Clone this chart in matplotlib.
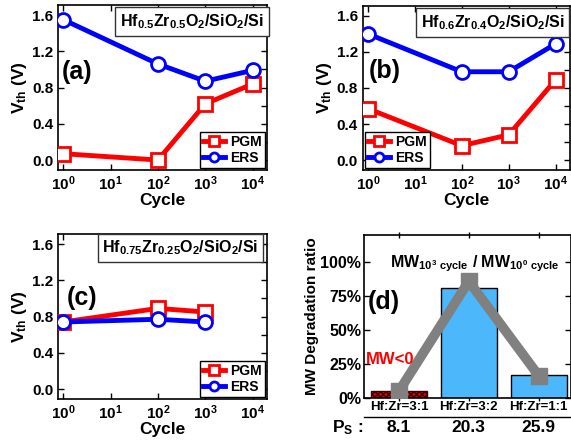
import numpy as np
import matplotlib
matplotlib.use("Agg")
import matplotlib.pyplot as plt
from matplotlib.ticker import MultipleLocator, FixedLocator, NullLocator
from matplotlib.transforms import blended_transform_factory

plt.rcParams["font.family"] = ["Liberation Sans", "DejaVu Sans"]
plt.rcParams["font.weight"] = "bold"
plt.rcParams["axes.labelweight"] = "bold"
plt.rcParams["mathtext.fontset"] = "custom"
plt.rcParams["mathtext.rm"] = "Liberation Sans:bold"
plt.rcParams["mathtext.it"] = "Liberation Sans:bold"
plt.rcParams["mathtext.bf"] = "Liberation Sans:bold"
plt.rcParams["mathtext.default"] = "rm"

# ---------------------------------------------------------------- data
cycles = [1, 100, 1000, 10000]

pgm_a = [0.07, 0.00, 0.62, 0.84]
ers_a = [1.55, 1.06, 0.87, 0.99]

pgm_b = [0.57, 0.16, 0.28, 0.89]
ers_b = [1.40, 0.98, 0.98, 1.29]

cycles_c = [1, 100, 1000]
pgm_c = [0.74, 0.89, 0.85]
ers_c = [0.74, 0.77, 0.74]

ratios = ["Hf:Zr=3:1", "Hf:Zr=3:2", "Hf:Zr=1:1"]
ps_vals = ["8.1", "20.3", "25.9"]
bar_vals = [0.05, 0.81, 0.17]
line_vals = [0.05, 0.86, 0.165]

films = [
    "Hf$_{0.5}$Zr$_{0.5}$O$_2$/SiO$_2$/Si",
    "Hf$_{0.6}$Zr$_{0.4}$O$_2$/SiO$_2$/Si",
    "Hf$_{0.75}$Zr$_{0.25}$O$_2$/SiO$_2$/Si",
]

# ---------------------------------------------------------------- layout
fig = plt.figure(figsize=(5.71, 4.41), dpi=100)
ax_a = fig.add_axes([0.1016, 0.6145, 0.366, 0.374])
ax_b = fig.add_axes([0.6357, 0.6145, 0.362, 0.372])
ax_c = fig.add_axes([0.1016, 0.0952, 0.366, 0.374])
ax_d = fig.add_axes([0.6375, 0.0975, 0.362, 0.3695])


def vth_panel(ax, x, pgm, ers, label, film, loc, film_pos):
    ax.plot(x, pgm, "-s", color="red", lw=3.5, ms=10, mfc="white",
            mew=2, label="PGM", zorder=3)
    ax.plot(x, ers, "-o", color="blue", lw=3.5, ms=10, mfc="white",
            mew=2, label="ERS", zorder=3)
    ax.set_xscale("log")
    ax.set_xlim(0.78, 2e4)
    ax.set_ylim(-0.11, 1.71)
    ax.xaxis.set_major_locator(FixedLocator([1, 10, 100, 1000, 10000]))
    ax.xaxis.set_minor_locator(NullLocator())
    ax.yaxis.set_major_locator(MultipleLocator(0.4))
    ax.yaxis.set_minor_locator(MultipleLocator(0.2))
    ax.tick_params(which="both", direction="in", top=True, right=True,
                   labelsize=11, length=4, width=1)
    ax.tick_params(which="minor", left=False, top=False, bottom=False)
    ax.set_xlabel("Cycle", fontsize=12.5, labelpad=0)
    ax.set_ylabel("V$_{th}$ (V)", fontsize=12.5, labelpad=2)
    for s in ax.spines.values():
        s.set_linewidth(1.2)
    ax.text(film_pos[0], film_pos[1], film, transform=ax.transAxes,
            ha="right", va="center", fontsize=11.5,
            bbox=dict(boxstyle="square,pad=0.3", fc="white", ec="#333333", lw=1))
    ax.text(label[1], label[2], label[0], transform=ax.transAxes,
            ha="left", va="center", fontsize=18)
    ax.legend(loc=loc, fontsize=10, handlelength=1.6, handletextpad=0.4,
              borderpad=0.2, labelspacing=0.15, fancybox=False,
              edgecolor="black", framealpha=1, borderaxespad=0.15,
              markerscale=0.65)


vth_panel(ax_a, cycles, pgm_a, ers_a, ("(a)", 0.02, 0.594), films[0],
          "lower right", (0.985, 0.9))
vth_panel(ax_b, cycles, pgm_b, ers_b, ("(b)", 0.03, 0.606), films[1],
          "lower left", (0.975, 0.9))
vth_panel(ax_c, cycles_c, pgm_c, ers_c, ("(c)", 0.04, 0.612), films[2],
          "lower right", (0.96, 0.915))

# ---------------------------------------------------------------- panel (d)
xd = np.arange(len(ratios))
bars = ax_d.bar(xd, bar_vals, width=0.8, color="#4cb8fb", edgecolor="black",
                lw=1, zorder=2)
bars[0].set_facecolor("#e00000")
bars[0].set_hatch("xxxxxx")
bars[0].set_edgecolor("#3a0000")
ax_d.plot(xd, line_vals, "-s", color="#808080", lw=7, ms=11, zorder=3)
ax_d.set_xlim(-0.5, 2.46)
ax_d.set_ylim(0, 1.2)
ax_d.set_yticks([0, 0.25, 0.5, 0.75, 1.0])
ax_d.set_yticklabels(["0%", "25%", "50%", "75%", "100%"])
ax_d.set_xticks(xd)
ax_d.set_xticklabels(ratios)
ax_d.tick_params(axis="y", direction="in", right=True, labelsize=11.5,
                 length=4, width=1, pad=2)
ax_d.tick_params(axis="x", direction="inout", top=True, labelsize=9.5,
                 length=5, width=1, pad=0)
for s in ax_d.spines.values():
    s.set_linewidth(1.2)
ax_d.set_ylabel("MW Degradation ratio", fontsize=11, labelpad=1)
ax_d.text(1.08, 0.99, "MW$_{10^3\\ cycle}$ / MW$_{10^0\\ cycle}$",
          ha="center", va="center", fontsize=11.5)
ax_d.text(0.02, 0.589, "(d)", transform=ax_d.transAxes, ha="left",
          va="center", fontsize=18)
ax_d.text(-0.47, 0.28, "MW<0", color="red", ha="left", va="center",
          fontsize=12)

ax_d.plot([0, 1], [-0.117, -0.117], transform=ax_d.transAxes, color="black",
          lw=1, clip_on=False)
trans = blended_transform_factory(ax_d.transData, ax_d.transAxes)
for xi, ps in zip(xd, ps_vals):
    ax_d.text(xi, -0.18, ps, transform=trans, ha="center", va="center",
              fontsize=12.5)
ax_d.text(-0.005, -0.18, "P$_S$ :", transform=ax_d.transAxes, ha="right",
          va="center", fontsize=12.5)

fig.savefig("out.png", dpi=100)
